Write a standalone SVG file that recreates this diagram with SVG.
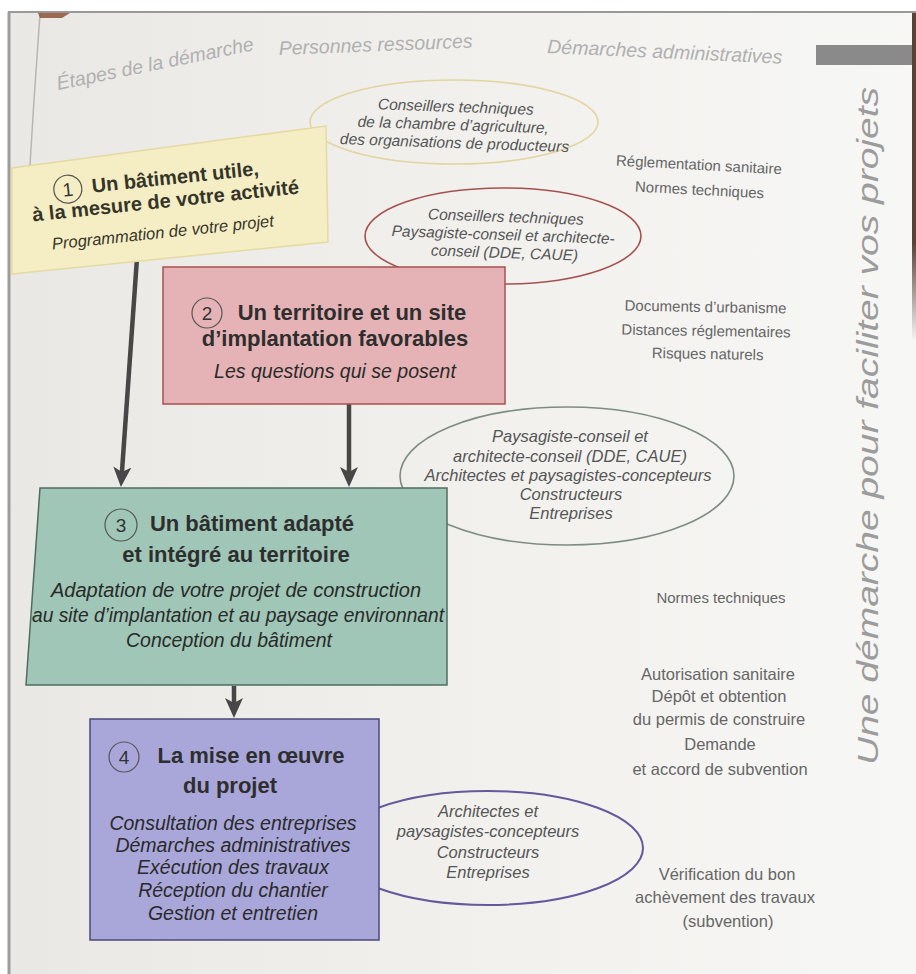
<svg xmlns="http://www.w3.org/2000/svg" width="916" height="974" viewBox="0 0 916 974">
  <defs>
    <linearGradient id="page" x1="0" y1="0" x2="1" y2="0">
      <stop offset="0" stop-color="#e9e8e4"/>
      <stop offset="0.5" stop-color="#f1f0ed"/>
      <stop offset="1" stop-color="#f7f7f5"/>
    </linearGradient>
    <linearGradient id="edge" x1="0" y1="0" x2="0" y2="1">
      <stop offset="0" stop-color="#5a4238"/>
      <stop offset="0.7" stop-color="#5a4238"/>
      <stop offset="1" stop-color="#5a4238" stop-opacity="0"/>
    </linearGradient>
    <marker id="arr" markerUnits="userSpaceOnUse" markerWidth="20" markerHeight="18" viewBox="0 0 20 18" refX="10" refY="9" orient="auto">
      <path d="M0,0 L20,9 L0,18 L5,9 z" fill="#474747"/>
    </marker>
    <style>
      text { font-family: "Liberation Sans", Arial, sans-serif; }
      .hdr { font-size: 19.5px; font-style: italic; fill: #b0b0b0; }
      .ell { font-size: 15.5px; font-style: italic; fill: #555; text-anchor: middle; }
      .ell2 { font-size: 16.5px; font-style: italic; fill: #555; text-anchor: middle; }
      .adm { font-size: 15px; fill: #666; text-anchor: middle; }
      .adm2 { font-size: 16.5px; fill: #666; text-anchor: middle; }
      .ttl { font-size: 22px; font-weight: bold; fill: #2e2e2e; text-anchor: middle; }
      .det { font-size: 19.5px; font-style: italic; fill: #2a2a2a; text-anchor: middle; }
      .num { font-size: 19px; fill: #333; text-anchor: middle; }
      .circ { fill: none; stroke: #555; stroke-width: 1.2; }
      .conn { stroke: #474747; stroke-width: 4.5; fill: none; marker-end: url(#arr); }
    </style>
  </defs>

  <!-- page -->
  <rect x="0" y="0" width="916" height="974" fill="#ffffff"/>
  <rect x="8" y="12" width="908" height="962" fill="url(#page)"/>
  <path d="M40,14 L34,100 L30,165" fill="none" stroke="#b8b6b0" stroke-width="1.5"/>
  <path d="M38,13 L70,13 L62,18 L40,18 z" fill="#8a4a2a" opacity="0.8"/>
  <rect x="912" y="12" width="4" height="330" fill="url(#edge)"/>
  <line x1="8" y1="12" x2="916" y2="12" stroke="#999" stroke-width="2"/>
  <line x1="9" y1="12" x2="9" y2="974" stroke="#9c9c9c" stroke-width="3"/>
  <rect x="816" y="45" width="96" height="20" fill="#8a8a8a"/>

  <!-- headers -->
  <text class="hdr" x="58" y="90" transform="rotate(-11.5 58 90)">Étapes de la démarche</text>
  <text class="hdr" x="279" y="55" transform="rotate(-2.2 279 55)" font-size="20">Personnes ressources</text>
  <text class="hdr" x="547" y="53" transform="rotate(2.6 547 53)" font-size="20">Démarches administratives</text>

  <text x="878" y="765" transform="rotate(-90 878 765)" font-size="30" font-style="italic" fill="#9c9c9c" textLength="678" lengthAdjust="spacingAndGlyphs">Une démarche pour faciliter vos projets</text>

  <!-- ellipses (resource persons) -->
  <g id="res1">
    <ellipse cx="454" cy="122" rx="144" ry="42" fill="none" stroke="#e3d4a0" stroke-width="1.6"/>
    <g transform="rotate(2 454 130)">
      <text class="ell" x="455" y="112">Conseillers techniques</text>
      <text class="ell" x="453" y="130">de la chambre d’agriculture,</text>
      <text class="ell" x="455" y="148">des organisations de producteurs</text>
    </g>
  </g>
  <g id="res2">
    <ellipse cx="503" cy="236" rx="138" ry="48" fill="none" stroke="#a5524f" stroke-width="1.6"/>
    <g transform="rotate(2 504 240)">
      <text class="ell" x="505" y="222">Conseillers techniques</text>
      <text class="ell" x="503" y="240">Paysagiste-conseil et architecte-</text>
      <text class="ell" x="505" y="258">conseil (DDE, CAUE)</text>
    </g>
  </g>
  <g id="res3">
    <ellipse cx="567" cy="476" rx="167" ry="69" fill="none" stroke="#7d8d83" stroke-width="1.6"/>
    <text class="ell2" x="570" y="442">Paysagiste-conseil et</text>
    <text class="ell2" x="570" y="462">architecte-conseil (DDE, CAUE)</text>
    <text class="ell2" x="568" y="481">Architectes et paysagistes-concepteurs</text>
    <text class="ell2" x="571" y="500">Constructeurs</text>
    <text class="ell2" x="571" y="519">Entreprises</text>
  </g>
  <g id="res4">
    <ellipse cx="488" cy="848" rx="155" ry="57" fill="none" stroke="#66589a" stroke-width="2"/>
    <text class="ell2" x="488" y="817">Architectes et</text>
    <text class="ell2" x="488" y="837">paysagistes-concepteurs</text>
    <text class="ell2" x="488" y="858">Constructeurs</text>
    <text class="ell2" x="488" y="878">Entreprises</text>
  </g>

  <!-- connectors -->
  <g id="connectors">
    <line class="conn" x1="137" y1="258" x2="121.6" y2="477"/>
    <line class="conn" x1="349" y1="404" x2="349" y2="477"/>
    <line class="conn" x1="234" y1="686" x2="234" y2="708"/>
  </g>

  <!-- step 1 -->
  <g id="step1">
    <polygon points="12,168 326,126 328,242 12,274" fill="#f5eec4" stroke="#e6d9a2" stroke-width="1.5"/>
    <g transform="rotate(-6 166 205)">
      <circle class="circ" cx="70" cy="179" r="14"/>
      <text class="num" x="70" y="186" font-size="18">1</text>
      <text x="178" y="185" font-size="20" font-weight="bold" fill="#35352a" text-anchor="middle">Un bâtiment utile,</text>
      <text x="166" y="207.5" font-size="20" font-weight="bold" fill="#35352a" text-anchor="middle">à la mesure de votre activité</text>
      <text x="160" y="237.5" font-size="16.5" font-style="italic" fill="#35352a" text-anchor="middle">Programmation de votre projet</text>
    </g>
  </g>

  <!-- step 2 -->
  <g id="step2">
    <rect x="163" y="267" width="342" height="137" fill="#e5b3b5" stroke="#a8524f" stroke-width="1.5"/>
    <circle class="circ" cx="207" cy="313" r="15"/>
    <text class="num" x="207" y="320">2</text>
    <text class="ttl" x="352" y="320">Un territoire et un site</text>
    <text class="ttl" x="335" y="346">d’implantation favorables</text>
    <text class="det" x="335" y="378" font-size="19">Les questions qui se posent</text>
  </g>

  <!-- step 3 -->
  <g id="step3">
    <polygon points="40,488 447,488 447,685 26,685" fill="#9fc6b6" stroke="#506c60" stroke-width="1.5"/>
    <circle class="circ" cx="121" cy="525" r="16"/>
    <text class="num" x="121" y="532">3</text>
    <text class="ttl" x="252" y="531">Un bâtiment adapté</text>
    <text class="ttl" x="236" y="562">et intégré au territoire</text>
    <text class="det" x="236" y="597" textLength="370" lengthAdjust="spacingAndGlyphs">Adaptation de votre projet de construction</text>
    <text class="det" x="238" y="622" textLength="412" lengthAdjust="spacingAndGlyphs">au site d’implantation et au paysage environnant</text>
    <text class="det" x="229" y="647">Conception du bâtiment</text>
  </g>

  <!-- step 4 -->
  <g id="step4">
    <rect x="90" y="719" width="289" height="221" fill="#a9a7d9" stroke="#4a4a78" stroke-width="1.5"/>
    <circle class="circ" cx="124" cy="757" r="15"/>
    <text class="num" x="124" y="764">4</text>
    <text class="ttl" x="251" y="763">La mise en œuvre</text>
    <text class="ttl" x="230" y="793">du projet</text>
    <text class="det" x="233" y="830">Consultation des entreprises</text>
    <text class="det" x="233" y="852">Démarches administratives</text>
    <text class="det" x="233" y="874">Exécution des travaux</text>
    <text class="det" x="233" y="897">Réception du chantier</text>
    <text class="det" x="233" y="920">Gestion et entretien</text>
  </g>

  <!-- administrative steps -->
  <g id="admin">
    <g transform="rotate(3 700 182)">
      <text class="adm" x="698" y="170">Réglementation sanitaire</text>
      <text class="adm" x="700" y="195">Normes techniques</text>
    </g>
    <g transform="rotate(1 706 335)">
      <text class="adm" x="705" y="312">Documents d’urbanisme</text>
      <text class="adm" x="706" y="336">Distances réglementaires</text>
      <text class="adm" x="708" y="359">Risques naturels</text>
    </g>
    <text class="adm" x="721" y="603">Normes techniques</text>
    <text class="adm2" x="718" y="680">Autorisation sanitaire</text>
    <text class="adm2" x="719" y="702">Dépôt et obtention</text>
    <text class="adm2" x="719" y="725">du permis de construire</text>
    <text class="adm2" x="720" y="750">Demande</text>
    <text class="adm2" x="720" y="775">et accord de subvention</text>
    <text class="adm2" x="727" y="880">Vérification du bon</text>
    <text class="adm2" x="725" y="903">achèvement des travaux</text>
    <text class="adm2" x="728" y="927">(subvention)</text>
  </g>
</svg>
